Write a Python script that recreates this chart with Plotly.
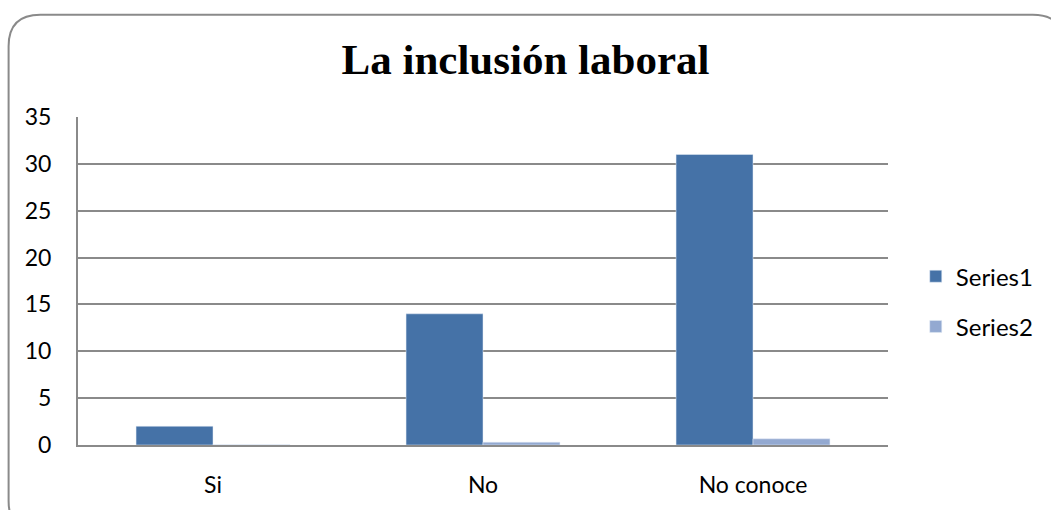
import plotly.graph_objects as go

categories = ["Si", "No", "No conoce"]
series1 = [2, 14, 31]
series2 = [0.04, 0.3, 0.66]
y_ticks = [0, 5, 10, 15, 20, 25, 30, 35]

W, H = 1051, 510
L, R, T, B = 78, 156, 117, 59
pw, ph = W - L - R, H - T - B

def px_x(p):
    return (p - L) / pw

def px_y(p):
    return (H - B - p) / ph

fig = go.Figure()
fig.add_trace(go.Bar(name="Series1", x=categories, y=series1, marker_color="#4572A7",
                     legendgroup="a"))
fig.add_trace(go.Bar(name="Series2", x=categories, y=series2, marker_color="#93A9D1",
                     legendgroup="b"))

# rounded border (extends past the right and bottom edges, as in the reference)
x0, x1, y0, y1 = px_x(8), px_x(1073), px_y(540), px_y(13)
rx, ry = 32 / pw, 32 / ph
path = (f"M {x0+rx},{y1} L {x1-rx},{y1} Q {x1},{y1} {x1},{y1-ry} "
        f"L {x1},{y0+ry} Q {x1},{y0} {x1-rx},{y0} L {x0+rx},{y0} "
        f"Q {x0},{y0} {x0},{y0+ry} L {x0},{y1-ry} Q {x0},{y1} {x0+rx},{y1} Z")
fig.add_shape(type="path", path=path, xref="paper", yref="paper",
              line=dict(color="#8a8a8a", width=2), layer="below")

fig.update_layout(
    width=W, height=H, autosize=False,
    margin=dict(l=L, r=R, t=T, b=B),
    paper_bgcolor="white", plot_bgcolor="white",
    barmode="group", bargap=0.43, bargroupgap=0,
    title=dict(text="<b>La inclusión laboral</b>", x=0.5, xanchor="center",
               y=1 - 59 / H, yanchor="middle",
               font=dict(family="Liberation Serif", size=43, color="black")),
    font=dict(family="Lato, Open Sans, sans-serif", size=23, color="black"),
    legend=dict(x=px_x(923), y=px_y(305), xanchor="left", yanchor="middle",
                traceorder="grouped", tracegroupgap=16,
                font=dict(size=24), itemwidth=30),
    showlegend=True,
)
fig.update_xaxes(showline=True, linecolor="#8a8a8a", linewidth=2,
                 ticks="", ticklabelstandoff=18, showgrid=False)
fig.update_yaxes(range=[0, 35], tickvals=y_ticks, showgrid=True,
                 gridcolor="#8a8a8a", gridwidth=1.5, showline=True,
                 linecolor="#8a8a8a", linewidth=2, ticks="",
                 ticklabelstandoff=20, zeroline=False)

fig.write_html("out.html",
               config={"displayModeBar": False, "responsive": False},
               post_script="document.documentElement.style.margin='0';"
                           "document.body.style.margin='0';"
                           "document.body.style.padding='0';"
                           "document.documentElement.style.overflow='hidden';"
                           "document.body.style.overflow='hidden';")
